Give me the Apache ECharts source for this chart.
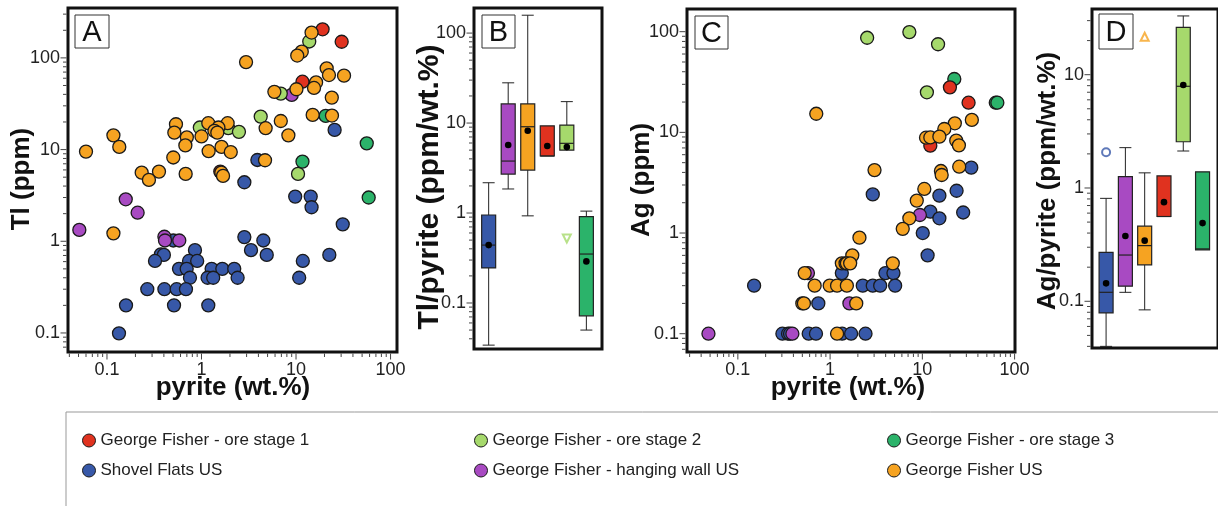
<!DOCTYPE html>
<html>
<head>
<meta charset="utf-8">
<script src="https://cdn.jsdelivr.net/npm/echarts@6/dist/echarts.min.js"></script>
<style>
html, body { margin: 0; padding: 0; background: #fff; }
#chart { width: 1218px; height: 506px; }
</style>
</head>
<body>
<div id="chart"></div>
<script>
var FONT = 'Liberation Sans, Arial, sans-serif';

// group names and colours
var groupNames = ['George Fisher - ore stage 1', 'George Fisher - ore stage 2', 'George Fisher - ore stage 3',
                  'Shovel Flats US', 'George Fisher - hanging wall US', 'George Fisher US'];
var colStage1 = '#e0321f', colStage2 = '#a6d96c', colStage3 = '#2bb36a';
var colShovel = '#3758a8', colHanging = '#a84ac2', colGfUs = '#f6a321';

// panel A : [pyrite wt.%, Tl ppm]
var tlStage1 = [[19.1, 205], [30.4, 150], [11.7, 55], [1.58, 5.75]];
var tlStage2 = [[13.8, 151], [6.9, 40.8], [4.23, 22.9], [0.96, 17.4], [1.92, 17.1], [2.49, 15.6], [10.5, 5.43]];
var tlStage3 = [[20.6, 23.3], [56, 11.7], [11.7, 7.4], [58.7, 3.0]];
var tlHanging = [[9.0, 39.5], [0.158, 2.87], [0.211, 2.05], [0.051, 1.33], [0.405, 1.12], [0.411, 1.02], [0.582, 1.02]];
var tlGfUs = [[14.6, 189], [11.5, 117], [10.3, 106], [2.96, 90], [21.1, 77], [22.3, 65], [32.2, 64], [16.3, 54],
  [15.5, 47], [10.1, 45.5], [5.9, 42.6], [23.9, 36.9], [6.9, 20.5], [15.0, 23.9], [24.0, 23.5], [0.537, 18.9],
  [1.18, 19.4], [1.89, 19.4], [1.51, 17.4], [4.77, 17.1], [1.37, 16.0], [1.47, 15.3], [0.516, 15.3], [0.117, 14.3],
  [8.3, 14.3], [0.70, 13.6], [1.0, 13.9], [0.675, 11.1], [0.135, 10.7], [1.63, 10.7], [0.060, 9.5], [1.19, 9.6],
  [2.04, 9.4], [0.503, 8.2], [4.7, 7.65], [0.233, 5.6], [0.355, 5.75], [0.68, 5.43], [1.62, 5.6], [1.69, 5.16],
  [0.278, 4.67], [0.117, 1.22]];
var tlShovel = [[25.6, 16.4], [3.9, 7.7], [2.84, 4.40], [9.8, 3.07], [14.3, 3.07], [14.6, 2.35], [31.2, 1.53],
  [0.503, 1.02], [2.84, 1.11], [4.51, 1.02], [0.853, 0.80], [3.34, 0.80], [0.372, 0.72], [0.40, 0.71], [4.9, 0.71],
  [22.5, 0.71], [0.322, 0.61], [0.738, 0.61], [0.90, 0.61], [11.8, 0.61], [0.578, 0.50], [0.697, 0.50], [1.28, 0.50],
  [1.66, 0.50], [2.22, 0.50], [0.755, 0.40], [1.16, 0.40], [1.33, 0.40], [2.41, 0.40], [10.8, 0.40], [0.267, 0.30],
  [0.405, 0.30], [0.546, 0.30], [0.685, 0.30], [0.159, 0.20], [0.512, 0.20], [1.18, 0.20], [0.134, 0.099]];

// panel C : [pyrite wt.%, Ag ppm]
var agStage1 = [[19.9, 28], [31.7, 19.7], [12.2, 7.37]];
var agStage2 = [[2.52, 87], [7.23, 99], [14.8, 75], [11.2, 25]];
var agStage3 = [[22.2, 33.9], [62.5, 19.7], [65, 19.7]];
var agHanging = [[9.4, 1.51], [0.575, 0.40], [1.62, 0.20], [0.048, 0.10], [0.39, 0.10]];
var agGfUs = [[0.708, 15.3], [34.4, 13.3], [22.5, 12.3], [17.3, 10.8], [10.96, 8.85], [12.2, 8.9], [15.3, 9.06],
  [23.3, 8.27], [24.9, 7.43], [3.03, 4.22], [25.1, 4.56], [15.9, 4.13], [16.2, 3.77], [10.5, 2.74], [8.7, 2.1],
  [7.23, 1.40], [6.13, 1.10], [2.08, 0.90], [1.74, 0.60], [1.34, 0.50], [1.47, 0.50], [1.52, 0.50], [1.65, 0.50],
  [4.78, 0.50], [0.53, 0.40], [0.68, 0.30], [0.99, 0.30], [1.19, 0.30], [1.52, 0.30], [0.50, 0.20], [0.52, 0.20],
  [1.92, 0.20], [1.19, 0.10]];
var agShovel = [[33.9, 4.46], [2.9, 2.42], [15.3, 2.35], [23.5, 2.63], [12.2, 1.63], [15.3, 1.40], [27.7, 1.60],
  [10.1, 1.0], [11.4, 0.60], [1.34, 0.40], [3.98, 0.40], [4.86, 0.40], [0.150, 0.30], [2.26, 0.30], [2.9, 0.30],
  [3.49, 0.30], [5.07, 0.30], [0.745, 0.20], [0.304, 0.10], [0.35, 0.10], [0.368, 0.10], [0.586, 0.10],
  [0.703, 0.10], [1.35, 0.10], [1.69, 0.10], [2.42, 0.10]];

// box plots B and D, boxes in this order
var boxColors = [colShovel, colHanging, colGfUs, colStage1, colStage2, colStage3];
// [whisker low, Q1, median, Q3, whisker high, mean]
var tlPyriteBoxes = [
  [0.034, 0.245, 0.44, 0.95, 2.17, 0.44],
  [1.85, 2.71, 3.78, 16.3, 28, 5.7],
  [0.93, 3.0, 9.1, 16.3, 158, 8.2],
  [4.3, 4.3, 4.3, 9.3, 9.3, 5.55],
  [5.0, 5.0, 5.95, 9.5, 17.3, 5.4],
  [0.05, 0.072, 0.35, 0.91, 1.05, 0.29]
];
var agPyriteBoxes = [
  [0.040, 0.079, 0.12, 0.27, 0.81, 0.144],
  [0.12, 0.136, 0.256, 1.26, 2.27, 0.377],
  [0.084, 0.21, 0.31, 0.46, 1.36, 0.343],
  [0.56, 0.56, 0.56, 1.28, 1.28, 0.75],
  [2.12, 2.56, 7.9, 26.2, 33, 8.1],
  [0.284, 0.284, 0.29, 1.39, 1.39, 0.49]
];
// outliers [box position, value]
var tlPyriteOutStage2 = [[5, 0.52]];
var agPyriteOutShovel = [[1, 2.07]];
var agPyriteOutGfUs = [[3, 21.6]];

// axis ranges
var rangeA = { xMin: 0.0387, xMax: 117, yMin: 0.062, yMax: 350 };
var rangeB = { xMin: 0.25, xMax: 6.8, yMin: 0.0308, yMax: 190 };
var rangeC = { xMin: 0.0281, xMax: 101, yMin: 0.0658, yMax: 168 };
var rangeD = { xMin: 0.27, xMax: 6.8, yMin: 0.0387, yMax: 38 };

function isPow10(v) {
  var l = Math.log10(v);
  return Math.abs(l - Math.round(l)) < 1e-6;
}
function powLabel(v) {
  return isPow10(v) ? String(+Math.pow(10, Math.round(Math.log10(v))).toPrecision(6)) : '';
}
function logTicks(min, max) {
  var out = [];
  for (var e = Math.floor(Math.log10(min)); e <= Math.ceil(Math.log10(max)); e++) {
    for (var k = 1; k <= 9; k++) {
      var v = +(k * Math.pow(10, e)).toPrecision(6);
      if (v >= min && v <= max) out.push(v);
    }
  }
  return out;
}

var labelStyle = { fontSize: 18, color: '#222', fontFamily: FONT };

function logAxis(idx, r, isX) {
  return {
    gridIndex: idx, type: 'log', logBase: 10,
    min: isX ? r.xMin : r.yMin, max: isX ? r.xMax : r.yMax,
    axisLine: { show: false }, axisTick: { show: false }, splitLine: { show: false },
    axisLabel: Object.assign({ margin: isX ? 9 : 8, formatter: powLabel }, labelStyle)
  };
}
function hiddenAxis(idx, r) {
  return { gridIndex: idx, type: 'value', min: r.xMin, max: r.xMax, show: false, splitLine: { show: false } };
}

function scatter(name, idx, data, color) {
  return {
    name: name, type: 'scatter', xAxisIndex: idx, yAxisIndex: idx, data: data,
    symbolSize: 13, z: 3,
    itemStyle: { color: color, borderColor: '#1a1a1a', borderWidth: 1.3, opacity: 1 }
  };
}

function tickSeries(idx, dir, values, fixed) {
  return {
    type: 'custom', xAxisIndex: idx, yAxisIndex: idx, silent: true, clip: false, z: 1,
    data: values.map(function (v) { return dir === 'x' ? [v, fixed] : [fixed, v]; }),
    renderItem: function (params, api) {
      var p = api.coord([api.value(0), api.value(1)]);
      var v = dir === 'x' ? api.value(0) : api.value(1);
      var len = isPow10(v) ? 6 : 3.5;
      var shape = dir === 'x'
        ? { x1: p[0], y1: p[1] + 1.5, x2: p[0], y2: p[1] + 1.5 + len }
        : { x1: p[0] - 1.5, y1: p[1], x2: p[0] - 1.5 - len, y2: p[1] };
      return { type: 'line', shape: shape, style: { stroke: '#444', lineWidth: 1 } };
    }
  };
}

function boxSeries(idx, rows) {
  return {
    type: 'custom', xAxisIndex: idx, yAxisIndex: idx, silent: true, z: 3,
    data: rows.map(function (r, i) { return [i + 1].concat(r); }),
    renderItem: function (params, api) {
      var x = api.value(0);
      var lo = api.value(1), q1 = api.value(2), med = api.value(3),
          q3 = api.value(4), hi = api.value(5), mean = api.value(6);
      var pLo = api.coord([x, lo]), pQ1 = api.coord([x, q1]), pMed = api.coord([x, med]),
          pQ3 = api.coord([x, q3]), pHi = api.coord([x, hi]), pMean = api.coord([x, mean]);
      var cx = pQ1[0], w = 14, cw = 12;
      var ln = { stroke: '#222', lineWidth: 1 };
      var kids = [];
      if (hi > q3) {
        kids.push({ type: 'line', shape: { x1: cx, y1: pQ3[1], x2: cx, y2: pHi[1] }, style: ln });
        kids.push({ type: 'line', shape: { x1: cx - cw / 2, y1: pHi[1], x2: cx + cw / 2, y2: pHi[1] }, style: ln });
      }
      if (lo < q1) {
        kids.push({ type: 'line', shape: { x1: cx, y1: pQ1[1], x2: cx, y2: pLo[1] }, style: ln });
        kids.push({ type: 'line', shape: { x1: cx - cw / 2, y1: pLo[1], x2: cx + cw / 2, y2: pLo[1] }, style: ln });
      }
      kids.push({ type: 'rect', shape: { x: cx - w / 2, y: pQ3[1], width: w, height: pQ1[1] - pQ3[1] },
        style: { fill: boxColors[params.dataIndex], stroke: '#222', lineWidth: 1.2 } });
      kids.push({ type: 'line', shape: { x1: cx - w / 2, y1: pMed[1], x2: cx + w / 2, y2: pMed[1] },
        style: { stroke: '#222', lineWidth: 1.2 } });
      kids.push({ type: 'circle', shape: { cx: pMean[0], cy: pMean[1], r: 3.3 }, style: { fill: '#000' } });
      return { type: 'group', children: kids };
    }
  };
}

function outlier(idx, data, symbol, color, rotate) {
  return {
    type: 'scatter', xAxisIndex: idx, yAxisIndex: idx, data: data, silent: true, z: 4,
    symbol: symbol, symbolSize: 8, symbolRotate: rotate || 0,
    itemStyle: { color: color, borderWidth: 1 }
  };
}

function panelTag(letter, x, y, w, h) {
  return {
    type: 'group', z: 100, children: [
      { type: 'rect', shape: { x: x, y: y, width: w, height: h }, style: { fill: '#fff', stroke: '#333', lineWidth: 1 } },
      { type: 'text', x: x + w / 2, y: y + h / 2 + 1,
        style: { text: letter, fontSize: 29, fontFamily: FONT, fill: '#111', align: 'center', verticalAlign: 'middle' } }
    ]
  };
}
function axisTitle(text, x, y, size, rotated) {
  return {
    type: 'text', z: 100, x: x, y: y, rotation: rotated ? Math.PI / 2 : 0,
    style: { text: text, fontSize: size, fontWeight: 'bold', fontFamily: FONT, fill: '#111',
      align: 'center', verticalAlign: 'middle' }
  };
}

function legendColumn(names, left) {
  return {
    data: names, left: left, top: 432, orient: 'vertical', padding: 0,
    icon: 'circle', itemWidth: 13, itemHeight: 13, itemGap: 13, selectedMode: false,
    itemStyle: { borderColor: '#1a1a1a', borderWidth: 1 },
    textStyle: { fontSize: 17, color: '#222', fontFamily: FONT }
  };
}

var gridStyle = { show: true, borderColor: '#111', borderWidth: 3, backgroundColor: '#fff', containLabel: false };

var series = [
  scatter(groupNames[3], 0, tlShovel, colShovel),
  scatter(groupNames[4], 0, tlHanging, colHanging),
  scatter(groupNames[1], 0, tlStage2, colStage2),
  scatter(groupNames[2], 0, tlStage3, colStage3),
  scatter(groupNames[0], 0, tlStage1, colStage1),
  scatter(groupNames[5], 0, tlGfUs, colGfUs),
  scatter(groupNames[3], 2, agShovel, colShovel),
  scatter(groupNames[4], 2, agHanging, colHanging),
  scatter(groupNames[1], 2, agStage2, colStage2),
  scatter(groupNames[2], 2, agStage3, colStage3),
  scatter(groupNames[0], 2, agStage1, colStage1),
  scatter(groupNames[5], 2, agGfUs, colGfUs),
  boxSeries(1, tlPyriteBoxes),
  boxSeries(3, agPyriteBoxes),
  outlier(1, tlPyriteOutStage2, 'emptyTriangle', colStage2, 180),
  outlier(3, agPyriteOutShovel, 'emptyCircle', colShovel),
  outlier(3, agPyriteOutGfUs, 'emptyTriangle', colGfUs),
  tickSeries(0, 'x', logTicks(rangeA.xMin, rangeA.xMax), rangeA.yMin),
  tickSeries(0, 'y', logTicks(rangeA.yMin, rangeA.yMax), rangeA.xMin),
  tickSeries(1, 'y', logTicks(rangeB.yMin, rangeB.yMax), rangeB.xMin),
  tickSeries(2, 'x', logTicks(rangeC.xMin, rangeC.xMax), rangeC.yMin),
  tickSeries(2, 'y', logTicks(rangeC.yMin, rangeC.yMax), rangeC.xMin),
  tickSeries(3, 'y', logTicks(rangeD.yMin, rangeD.yMax), rangeD.xMin)
];

var option = {
  backgroundColor: '#fff',
  animation: false,
  textStyle: { fontFamily: FONT },
  grid: [
    Object.assign({ left: 68, top: 8, width: 329, height: 344 }, gridStyle),
    Object.assign({ left: 474, top: 8, width: 128, height: 341 }, gridStyle),
    Object.assign({ left: 687, top: 9, width: 328, height: 343 }, gridStyle),
    Object.assign({ left: 1092, top: 9, width: 130, height: 339 }, gridStyle)
  ],
  xAxis: [logAxis(0, rangeA, true), hiddenAxis(1, rangeB), logAxis(2, rangeC, true), hiddenAxis(3, rangeD)],
  yAxis: [logAxis(0, rangeA, false), logAxis(1, rangeB, false), logAxis(2, rangeC, false), logAxis(3, rangeD, false)],
  legend: [
    legendColumn([groupNames[0], groupNames[3]], 82),
    legendColumn([groupNames[1], groupNames[4]], 474),
    legendColumn([groupNames[2], groupNames[5]], 887)
  ],
  graphic: [
    { type: 'rect', z: 0, shape: { x: 66, y: 412, width: 1180, height: 120 }, style: { fill: 'none', stroke: '#999', lineWidth: 1 } },
    panelTag('A', 75, 15, 34, 33),
    panelTag('B', 482, 15, 33, 33),
    panelTag('C', 695, 16, 33, 33),
    panelTag('D', 1099, 14, 34, 35),
    axisTitle('Tl (ppm)', 22, 179, 26, true),
    axisTitle('pyrite (wt.%)', 233, 388, 26, false),
    axisTitle('Tl/pyrite (ppm/wt.%)', 430, 187, 30, true),
    axisTitle('Ag (ppm)', 642, 180, 26, true),
    axisTitle('pyrite (wt.%)', 848, 388, 26, false),
    axisTitle('Ag/pyrite (ppm/wt.%)', 1048, 181, 26, true)
  ],
  series: series
};

var myChart = echarts.init(document.getElementById('chart'));
myChart.setOption(option);
</script>
</body>
</html>
